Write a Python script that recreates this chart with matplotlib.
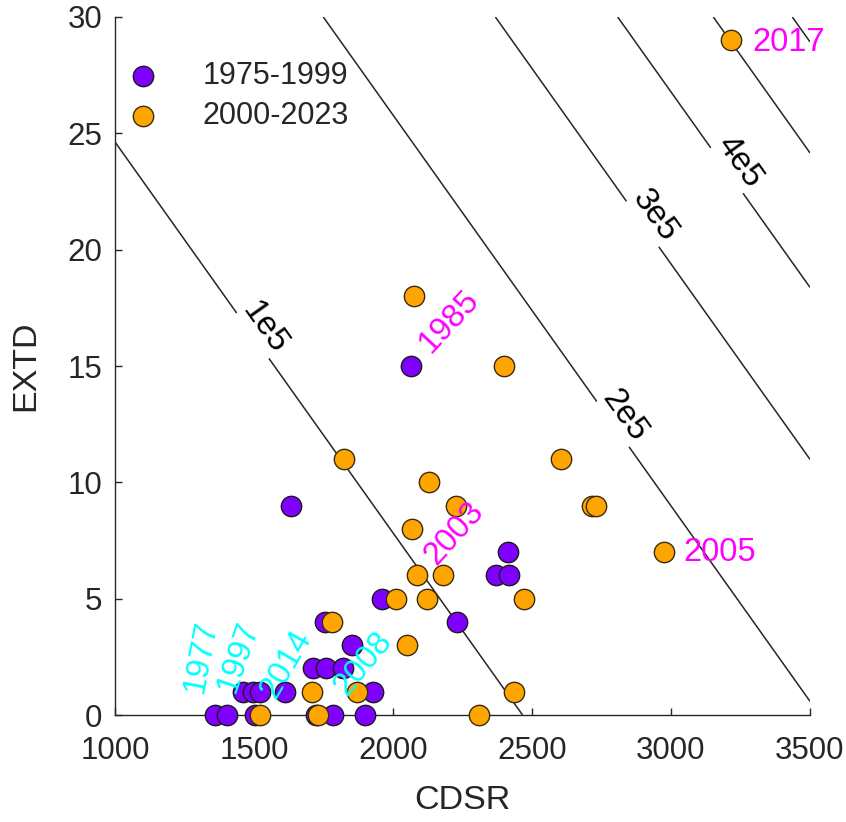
import numpy as np
import matplotlib
matplotlib.use('Agg')
import matplotlib.pyplot as plt
from matplotlib.transforms import ScaledTranslation

plt.rcParams['font.family'] = ['Liberation Sans', 'DejaVu Sans']

# ---------------- data ----------------
cdsr_early = [2063, 1632, 2412, 2369, 2419, 2230, 1962, 1756, 1854, 1713, 1760, 1821,
              1461, 1497, 1522, 1612, 1929, 1360, 1403, 1504, 1722, 1785, 1900]
extd_early = [15, 9, 7, 6, 6, 4, 5, 4, 3, 2, 2, 2,
              1, 1, 1, 1, 1, 0, 0, 0, 0, 0, 0]
cdsr_late = [3215, 2074, 2398, 1822, 2603, 2131, 2225, 2716, 2732, 2070, 2974, 2086,
             2181, 2010, 2124, 2470, 1782, 2052, 1710, 1872, 2434, 1522, 1731, 2308]
extd_late = [29, 18, 15, 11, 11, 10, 9, 9, 9, 8, 7, 6,
             6, 5, 5, 5, 4, 3, 1, 1, 1, 0, 0, 0]
series_labels = ['1975-1999', '2000-2023']

# contour lines: CDSR-intercept (at EXTD = 0) of each iso-line, common slope
contour_intercepts = [2466, 3535, 4154, 4594, 4938, 5222]
contour_names = ['1e5', '2e5', '3e5', '4e5', '', '']
contour_slope = 0.0168          # EXTD per unit CDSR
label_extd = [16.3, 12.5, 21.1, 23.4]   # where the labels sit on lines 1e5..4e5

# annotated years: (text, CDSR, EXTD, rotation, colour)
year_text = ['1985', '2003', '2005', '2017', '1977', '1997', '2014', '2008']
year_x = [2203, 2221, 3046, 3292, 1308, 1445, 1616, 1893]
year_y = [16.9, 7.8, 7.0, 28.9, 2.5, 2.5, 2.2, 2.2]
year_rot = [47, 48, 0, 0, 79, 71, 60, 50]
year_col = ['#FF00FF', '#FF00FF', '#FF00FF', '#FF00FF',
            '#00FFFF', '#00FFFF', '#00FFFF', '#00FFFF']

xticks = [1000, 1500, 2000, 2500, 3000, 3500]
yticks = [0, 5, 10, 15, 20, 25, 30]

# ---------------- figure ----------------
W, H = 846, 822
fig = plt.figure(figsize=(W / 100, H / 100), dpi=100)
ax = fig.add_axes([115 / W, 1 - 715 / H, 695 / W, 698 / H])
ax.set_xlim(1000, 3500)
ax.set_ylim(0, 30)

axcol = '#262626'

# contour lines
gx = np.linspace(1000, 3500, 400)
gy = np.linspace(0, 30, 400)
GX, GY = np.meshgrid(gx, gy)
U = GX + GY / contour_slope
cs = ax.contour(GX, GY, U, levels=contour_intercepts, colors=axcol, linewidths=1.1)
lab_levels = contour_intercepts[:4]
manual = [(lv - ye / contour_slope, ye) for lv, ye in zip(lab_levels, label_extd)]
fmt = {lv: nm for lv, nm in zip(contour_intercepts, contour_names)}
texts = ax.clabel(cs, levels=lab_levels, fmt=fmt, manual=manual, inline=True,
                  inline_spacing=0, fontsize=24, colors='black')
for t in texts:
    t.set_transform(t.get_transform() + ScaledTranslation(0.12, 0.085, fig.dpi_scale_trans))

# scatter
ms = 215
ax.scatter(cdsr_early, extd_early, s=ms, c='#7F00FF', edgecolors='#1a1a1a',
           linewidths=1.0, clip_on=False, zorder=3, label=series_labels[0])
ax.scatter(cdsr_late, extd_late, s=ms, c='#FFA500', edgecolors='#3a2a10',
           linewidths=1.0, clip_on=False, zorder=3, label=series_labels[1])

# year labels
for txt, x, y, r, c in zip(year_text, year_x, year_y, year_rot, year_col):
    ha = 'left' if r == 0 else 'center'
    ax.text(x, y, txt, color=c, fontsize=23.5, rotation=r, ha=ha, va='center',
            rotation_mode='anchor', zorder=5)

# axes styling
for s in ['top', 'right']:
    ax.spines[s].set_visible(False)
for s in ['left', 'bottom']:
    ax.spines[s].set_color(axcol)
    ax.spines[s].set_linewidth(1.0)
ax.set_xticks(xticks)
ax.set_yticks(yticks)
ax.tick_params(direction='in', length=5, width=1, colors=axcol, labelsize=22.5,
               labelcolor=axcol)
ax.tick_params(axis='x', pad=15)
ax.tick_params(axis='y', pad=9)
ax.set_xlabel('CDSR', fontsize=24.5, color=axcol, labelpad=14)
ax.set_ylabel('EXTD', fontsize=24.5, color=axcol, labelpad=19)

leg = ax.legend(loc='upper left', bbox_to_anchor=(0.018, 0.937), frameon=False,
                fontsize=22, handlelength=1.0, handletextpad=1.45,
                labelspacing=0.32, borderaxespad=0, borderpad=0,
                scatterpoints=1)
for t in leg.get_texts():
    t.set_color(axcol)

fig.savefig('out.png', dpi=100)
